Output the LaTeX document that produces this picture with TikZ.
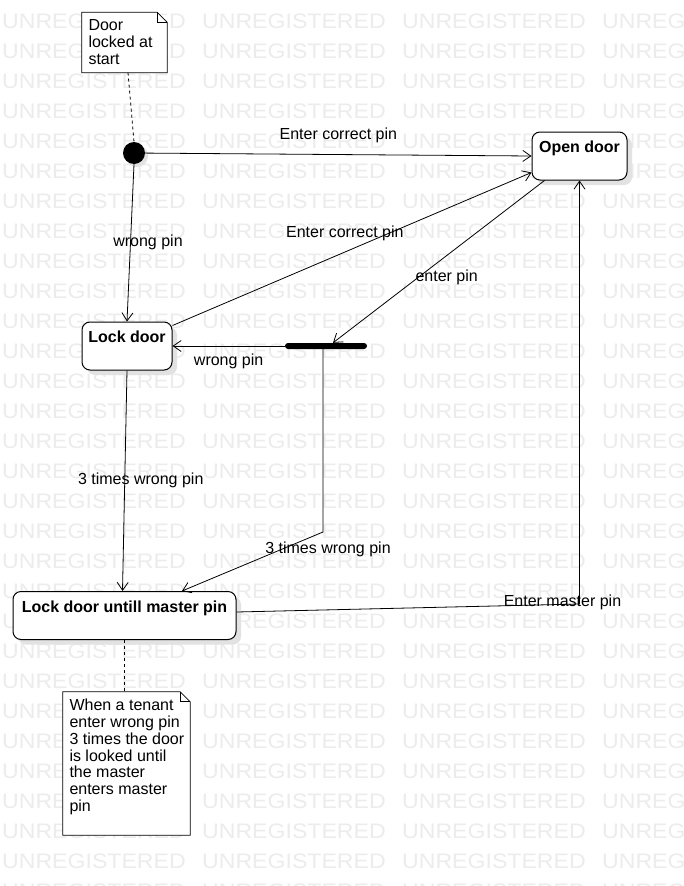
\documentclass[tikz,border=0pt]{standalone}
\usepackage{fontspec}
\setmainfont{Liberation Sans}
\newfontfamily\wmfont[FakeStretch=1.1]{Liberation Sans}
\usetikzlibrary{arrows.meta, positioning, calc, shadows}
\definecolor{wmgray}{RGB}{236,236,236}
\definecolor{shadowgray}{RGB}{226,226,226}
\tikzset{
  watermark/.style={anchor=north west, inner sep=0pt, text=wmgray,
    font=\wmfont\fontsize{21pt}{21pt}\selectfont},
  state/.style={rectangle, draw=black, fill=white, rounded corners=8pt,
    line width=1pt, inner xsep=0pt, inner ysep=8pt,
    text height=12.5pt, text depth=19.5pt,
    font=\fontsize{16pt}{17pt}\selectfont\bfseries,
    drop shadow={shadow xshift=5pt, shadow yshift=-5pt, fill=shadowgray, opacity=1}},
  initstate/.style={circle, fill=black, minimum size=22pt, inner sep=0pt,
    drop shadow={shadow xshift=3pt, shadow yshift=-3pt, fill=shadowgray, opacity=1}},
  forkbar/.style={rectangle, fill=black, minimum width=82pt, minimum height=6pt,
    inner sep=0pt, rounded corners=3pt},
  notebox/.style={rectangle, draw=none, inner sep=0pt},
  notetext/.style={anchor=north west, align=left, inner xsep=6.5pt, inner ysep=7pt,
    font=\fontsize{16pt}{16.8pt}\selectfont},
  notedraw/.style={draw=black, line width=0.8pt},
  noteline/.style={dashed, line width=0.8pt},
  arrow/.style={-{Straight Barb[length=8pt, width=11pt]}, line width=0.8pt},
  lbl/.style={inner sep=1pt, font=\fontsize{16pt}{17pt}\selectfont}
}
\newcommand{\notefold}[1]{%
  \fill[white] (#1.north west) -- ([xshift=-10pt]#1.north east) -- ([yshift=-10pt]#1.north east) -- (#1.south east) -- (#1.south west) -- cycle;
  \draw[notedraw] (#1.north west) -- ([xshift=-10pt]#1.north east) -- ([yshift=-10pt]#1.north east) -- (#1.south east) -- (#1.south west) -- cycle;
  \draw[notedraw] ([xshift=-10pt]#1.north east) -- ([xshift=-10pt,yshift=-10pt]#1.north east) -- ([yshift=-10pt]#1.north east);}

\begin{document}
\begin{tikzpicture}[x=1pt, y=-1pt]
  \useasboundingbox[fill=white] (0,0) rectangle (683,886);

  % Watermark
  \foreach \row in {0,...,29}
    \foreach \col in {0,...,3}
      \node[watermark] at (2+200*\col, 14+30*\row) {UNREGISTERED};

  % States
  \node[initstate] (init) at (134,153) {};
  \node[state, minimum width=95pt] (opendoor) at (579.5,156) {Open door};
  \node[state, minimum width=90pt] (lockdoor) at (127,346) {Lock door};
  \node[forkbar] (fork) at (326,346) {};
  \node[state, minimum width=223pt] (lockmaster) at (124.5,615.5) {Lock door untill master pin};
  \coordinate (forkbend) at (323,532);
  \coordinate (masterbend) at (579.5,604);

  % Notes
  \node[notebox, minimum width=85pt, minimum height=60pt] (startnote) at (124.5,42.5) {};
  \notefold{startnote}
  \node[notetext] at (startnote.north west) {Door\\locked at\\start};
  \node[notebox, minimum width=127pt, minimum height=143pt] (tenantnote) at (126.5,763.5) {};
  \notefold{tenantnote}
  \node[notetext] at (tenantnote.north west) {When a tenant\\enter wrong pin\\3 times the door\\is looked until\\the master\\enters master\\pin};
  \draw[noteline] ([xshift=3.5pt]startnote.south) -- (init.north);
  \draw[noteline] (lockmaster.south) -- (lockmaster.south |- tenantnote.north);

  % Transitions
  \draw[arrow] (init) -- node[lbl, midway, above=10pt] {Enter correct pin} (opendoor.west);
  \draw[arrow] (init.south) -- node[lbl, midway, xshift=17.5pt] {wrong pin} (lockdoor.north);
  \draw[arrow] ([yshift=-4pt]lockdoor.north east) -- node[lbl, pos=0.48, above=10pt] {Enter correct pin} ([yshift=8pt]opendoor.south west);
  \draw[arrow] ([xshift=13pt]opendoor.south west) -- node[lbl, pos=0.595, xshift=28pt] {enter pin} ([xshift=7pt]fork.north);
  \draw[arrow] (fork.west) -- node[lbl, midway, below=7pt] {wrong pin} (lockdoor.east);
  \draw[arrow] (lockdoor.south) -- node[lbl, midway, xshift=16pt] {3 times wrong pin} ([xshift=-2pt]lockmaster.north);
  \draw[arrow] ([xshift=-3pt]fork.south) -- (forkbend) -- node[lbl, pos=0, xshift=5pt, yshift=-17pt] {3 times wrong pin} ([xshift=57.5pt]lockmaster.north);
  \draw[arrow] ([yshift=3.5pt]lockmaster.east) -- node[lbl, pos=1, xshift=-17pt, yshift=2pt] {Enter master pin} (masterbend) -- (opendoor.south);
\end{tikzpicture}
\end{document}
